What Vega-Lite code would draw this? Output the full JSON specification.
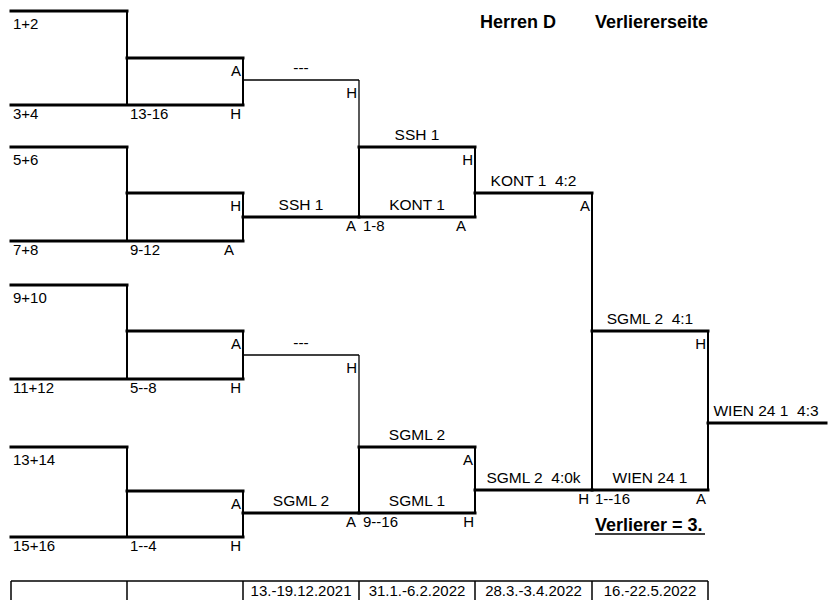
{
  "$schema": "https://vega.github.io/schema/vega-lite/v6.json",
  "width": 828,
  "height": 600,
  "autosize": {"type": "none"},
  "padding": 0,
  "background": "white",
  "config": {"view": {"stroke": null}, "text": {"font": "Liberation Sans", "fontSize": 15, "color": "black"}},
  "datasets": {
    "thick": [
      {"x": 11, "x2": 127, "y": 11}, {"x": 11, "x2": 243, "y": 105},
      {"x": 11, "x2": 127, "y": 147}, {"x": 11, "x2": 243, "y": 241},
      {"x": 11, "x2": 127, "y": 285}, {"x": 11, "x2": 243, "y": 379},
      {"x": 11, "x2": 127, "y": 447}, {"x": 11, "x2": 243, "y": 537},
      {"x": 127, "x2": 243, "y": 58}, {"x": 127, "x2": 243, "y": 193},
      {"x": 127, "x2": 243, "y": 331}, {"x": 127, "x2": 243, "y": 491},
      {"x": 243, "x2": 359, "y": 217}, {"x": 243, "x2": 359, "y": 513},
      {"x": 359, "x2": 475, "y": 147}, {"x": 359, "x2": 475, "y": 217},
      {"x": 359, "x2": 475, "y": 447}, {"x": 359, "x2": 475, "y": 513},
      {"x": 475, "x2": 592, "y": 193}, {"x": 475, "x2": 592, "y": 490},
      {"x": 592, "x2": 708, "y": 331}, {"x": 592, "x2": 708, "y": 490},
      {"x": 708, "x2": 826, "y": 423}
    ],
    "verticals": [
      {"x": 127, "y": 11, "y2": 105}, {"x": 127, "y": 147, "y2": 241},
      {"x": 127, "y": 285, "y2": 379}, {"x": 127, "y": 447, "y2": 537},
      {"x": 243, "y": 58, "y2": 105}, {"x": 243, "y": 193, "y2": 241},
      {"x": 243, "y": 331, "y2": 379}, {"x": 243, "y": 491, "y2": 537},
      {"x": 359, "y": 147, "y2": 217}, {"x": 359, "y": 447, "y2": 513},
      {"x": 475, "y": 147, "y2": 217}, {"x": 475, "y": 447, "y2": 513},
      {"x": 592, "y": 193, "y2": 490}, {"x": 708, "y": 331, "y2": 490}
    ],
    "byes": [
      {"x": 243, "x2": 359, "y": 80, "y2": 80}, {"x": 359, "x2": 359, "y": 80, "y2": 147},
      {"x": 243, "x2": 359, "y": 355, "y2": 355}, {"x": 359, "x2": 359, "y": 355, "y2": 447}
    ],
    "table": [
      {"x": 11, "x2": 708, "y": 581, "y2": 581},
      {"x": 11, "x2": 11, "y": 581, "y2": 600}, {"x": 127, "x2": 127, "y": 581, "y2": 600},
      {"x": 243, "x2": 243, "y": 581, "y2": 600}, {"x": 359, "x2": 359, "y": 581, "y2": 600},
      {"x": 475, "x2": 475, "y": 581, "y2": 600}, {"x": 592, "x2": 592, "y": 581, "y2": 600},
      {"x": 708, "x2": 708, "y": 581, "y2": 600},
      {"x": 595, "x2": 705, "y": 534, "y2": 534}
    ],
    "upperLeft": [
      {"label": "1+2", "x": 13, "y": 11}, {"label": "5+6", "x": 13, "y": 147},
      {"label": "9+10", "x": 13, "y": 285}, {"label": "13+14", "x": 13, "y": 447}
    ],
    "lowerLeft": [
      {"label": "3+4", "x": 13, "y": 105}, {"label": "13-16", "x": 130, "y": 105},
      {"label": "7+8", "x": 13, "y": 241}, {"label": "9-12", "x": 130, "y": 241},
      {"label": "11+12", "x": 13, "y": 379}, {"label": "5--8", "x": 130, "y": 379},
      {"label": "15+16", "x": 13, "y": 537}, {"label": "1--4", "x": 130, "y": 537},
      {"label": "1-8", "x": 363, "y": 217}, {"label": "9--16", "x": 363, "y": 513},
      {"label": "1--16", "x": 595, "y": 490}
    ],
    "upperRight": [
      {"label": "A", "x": 241, "y": 58}, {"label": "H", "x": 241, "y": 193},
      {"label": "A", "x": 241, "y": 331}, {"label": "A", "x": 241, "y": 491},
      {"label": "H", "x": 357, "y": 80}, {"label": "H", "x": 357, "y": 355},
      {"label": "H", "x": 473, "y": 147}, {"label": "A", "x": 473, "y": 447},
      {"label": "A", "x": 590, "y": 193}, {"label": "H", "x": 706, "y": 331}
    ],
    "lowerRight": [
      {"label": "H", "x": 241, "y": 105}, {"label": "A", "x": 234, "y": 241},
      {"label": "H", "x": 241, "y": 379}, {"label": "H", "x": 241, "y": 537},
      {"label": "A", "x": 356, "y": 217}, {"label": "A", "x": 356, "y": 513},
      {"label": "A", "x": 466, "y": 217}, {"label": "H", "x": 474, "y": 513},
      {"label": "H", "x": 589, "y": 490}, {"label": "A", "x": 706, "y": 490}
    ],
    "above": [
      {"label": "---", "x": 301, "y": 80}, {"label": "SSH 1", "x": 301, "y": 217},
      {"label": "SSH 1", "x": 417, "y": 147}, {"label": "KONT 1", "x": 417, "y": 217},
      {"label": "KONT 1\u00a0\u00a04:2", "x": 533.5, "y": 193},
      {"label": "---", "x": 301, "y": 355}, {"label": "SGML 2", "x": 301, "y": 513},
      {"label": "SGML 2", "x": 417, "y": 447}, {"label": "SGML 1", "x": 417, "y": 513},
      {"label": "SGML 2\u00a0\u00a04:0k", "x": 533.5, "y": 490},
      {"label": "SGML 2\u00a0\u00a04:1", "x": 650, "y": 331}, {"label": "WIEN 24 1", "x": 650, "y": 490},
      {"label": "WIEN 24 1\u00a0\u00a04:3", "x": 766, "y": 423}
    ],
    "dates": [
      {"label": "13.-19.12.2021", "x": 301, "y": 581},
      {"label": "31.1.-6.2.2022", "x": 417, "y": 581},
      {"label": "28.3.-3.4.2022", "x": 533.5, "y": 581},
      {"label": "16.-22.5.2022", "x": 650, "y": 581}
    ],
    "bold": [
      {"label": "Herren D", "x": 480, "y": 28},
      {"label": "Verliererseite", "x": 595, "y": 28},
      {"label": "Verlierer = 3.", "x": 595, "y": 531}
    ]
  },
  "layer": [
    {
      "data": {"name": "thick"},
      "mark": {"type": "rule", "strokeWidth": 3, "strokeCap": "square", "color": "black"},
      "encoding": {
        "x": {"field": "x", "type": "quantitative", "scale": {"domain": [0, 828], "nice": false, "zero": false}, "axis": null},
        "x2": {"field": "x2"},
        "y": {"field": "y", "type": "quantitative", "scale": {"domain": [0, 600], "nice": false, "zero": false, "reverse": true}, "axis": null}
      }
    },
    {
      "data": {"name": "verticals"},
      "mark": {"type": "rule", "strokeWidth": 2, "color": "black"},
      "encoding": {
        "x": {"field": "x", "type": "quantitative", "axis": null},
        "y": {"field": "y", "type": "quantitative", "axis": null},
        "y2": {"field": "y2"}
      }
    },
    {
      "data": {"name": "byes"},
      "mark": {"type": "rule", "strokeWidth": 1.3, "color": "black"},
      "encoding": {
        "x": {"field": "x", "type": "quantitative", "axis": null},
        "x2": {"field": "x2"},
        "y": {"field": "y", "type": "quantitative", "axis": null},
        "y2": {"field": "y2"}
      }
    },
    {
      "data": {"name": "table"},
      "mark": {"type": "rule", "strokeWidth": 1.5, "color": "black"},
      "encoding": {
        "x": {"field": "x", "type": "quantitative", "axis": null},
        "x2": {"field": "x2"},
        "y": {"field": "y", "type": "quantitative", "axis": null},
        "y2": {"field": "y2"}
      }
    },
    {
      "data": {"name": "upperLeft"},
      "mark": {"type": "text", "align": "left", "baseline": "alphabetic", "dy": 17.5},
      "encoding": {
        "x": {"field": "x", "type": "quantitative", "axis": null},
        "y": {"field": "y", "type": "quantitative", "axis": null},
        "text": {"field": "label"}
      }
    },
    {
      "data": {"name": "lowerLeft"},
      "mark": {"type": "text", "align": "left", "baseline": "alphabetic", "dy": 14},
      "encoding": {
        "x": {"field": "x", "type": "quantitative", "axis": null},
        "y": {"field": "y", "type": "quantitative", "axis": null},
        "text": {"field": "label"}
      }
    },
    {
      "data": {"name": "upperRight"},
      "mark": {"type": "text", "align": "right", "baseline": "alphabetic", "dy": 17.5},
      "encoding": {
        "x": {"field": "x", "type": "quantitative", "axis": null},
        "y": {"field": "y", "type": "quantitative", "axis": null},
        "text": {"field": "label"}
      }
    },
    {
      "data": {"name": "lowerRight"},
      "mark": {"type": "text", "align": "right", "baseline": "alphabetic", "dy": 14},
      "encoding": {
        "x": {"field": "x", "type": "quantitative", "axis": null},
        "y": {"field": "y", "type": "quantitative", "axis": null},
        "text": {"field": "label"}
      }
    },
    {
      "data": {"name": "above"},
      "mark": {"type": "text", "align": "center", "baseline": "alphabetic", "dy": -7, "fontSize": 15.5},
      "encoding": {
        "x": {"field": "x", "type": "quantitative", "axis": null},
        "y": {"field": "y", "type": "quantitative", "axis": null},
        "text": {"field": "label"}
      }
    },
    {
      "data": {"name": "dates"},
      "mark": {"type": "text", "align": "center", "baseline": "alphabetic", "dy": 15},
      "encoding": {
        "x": {"field": "x", "type": "quantitative", "axis": null},
        "y": {"field": "y", "type": "quantitative", "axis": null},
        "text": {"field": "label"}
      }
    },
    {
      "data": {"name": "bold"},
      "mark": {"type": "text", "align": "left", "baseline": "alphabetic", "fontWeight": "bold", "fontSize": 18},
      "encoding": {
        "x": {"field": "x", "type": "quantitative", "axis": null},
        "y": {"field": "y", "type": "quantitative", "axis": null},
        "text": {"field": "label"}
      }
    }
  ]
}
